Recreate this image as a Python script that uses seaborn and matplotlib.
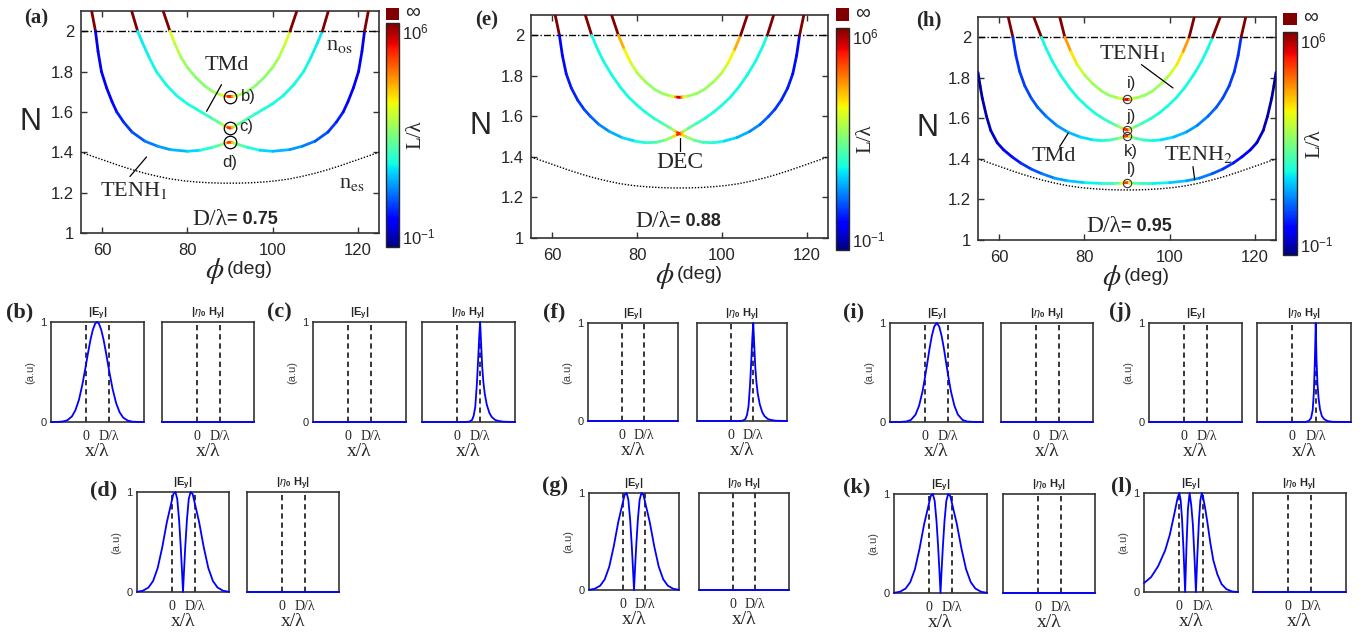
import numpy as np
import matplotlib
matplotlib.use("Agg")
import matplotlib.pyplot as plt
from matplotlib.collections import LineCollection
from matplotlib.colors import Normalize
from matplotlib.cm import ScalarMappable
import seaborn as sns

W, H = 1370, 635

# ---------------- Data ----------------
INF = 6.0  # log10(L/lambda) for the "infinite" (dark red) part above n_os

# Dispersion branches, left half (phi <= 90 deg); the curves are symmetric about 90 deg.
# phi (deg), N, log10(L/lambda)
a1_phi = [74.3, 75.9, 75.9, 77.0, 78.5, 80.0, 82.0, 84.0, 86.0, 88.0, 89.0, 89.5, 90.0]
a1_n = [2.10, 2.00, 2.00, 1.94, 1.87, 1.82, 1.77, 1.73, 1.70, 1.683, 1.678, 1.677, 1.676]
a1_l = [INF, INF, 3.4, 3.1, 2.9, 2.7, 2.6, 2.6, 2.7, 3.0, 3.6, 4.8, 5.6]

a2_phi = [66.9, 68.3, 68.3, 69.5, 71.0, 72.7, 75.0, 77.5, 80.0, 82.0, 84.0, 86.0, 88.0, 89.0, 89.5, 90.0]
a2_n = [2.10, 2.00, 2.00, 1.94, 1.87, 1.80, 1.735, 1.68, 1.64, 1.615, 1.59, 1.565, 1.54, 1.528, 1.523, 1.52]
a2_l = [INF, INF, 1.5, 1.5, 1.55, 1.6, 1.6, 1.6, 1.65, 1.7, 1.8, 2.0, 2.5, 3.3, 4.6, 5.4]

a3_phi = [57.5, 58.4, 58.4, 59.0, 59.8, 61.0, 62.3, 63.4, 65.0, 67.0, 70.0, 73.0, 76.0, 80.0, 83.0, 86.0, 88.0, 89.0, 89.5, 90.0]
a3_n = [2.10, 2.00, 2.00, 1.90, 1.80, 1.72, 1.65, 1.60, 1.55, 1.50, 1.455, 1.43, 1.413, 1.405, 1.41, 1.425, 1.438, 1.445, 1.448, 1.45]
a3_l = [INF, INF, -0.3, -0.3, -0.25, -0.2, -0.1, 0.0, 0.15, 0.35, 0.6, 0.85, 1.05, 1.25, 1.5, 1.9, 2.4, 3.2, 4.5, 5.4]

e1_phi = [74.0, 75.6, 75.6, 77.0, 78.5, 80.0, 82.0, 84.0, 86.0, 88.0, 89.0, 89.5, 90.0]
e1_n = [2.10, 2.00, 2.00, 1.93, 1.865, 1.815, 1.77, 1.735, 1.712, 1.70, 1.696, 1.695, 1.694]
e1_l = [INF, INF, 4.4, 3.8, 3.3, 3.0, 2.8, 2.7, 2.7, 2.9, 3.6, 5.0, 5.9]

e2_phi = [67.8, 69.3, 69.3, 70.5, 72.0, 74.0, 76.0, 78.0, 80.0, 82.0, 84.0, 86.0, 88.0, 89.0, 89.5, 90.0]
e2_n = [2.10, 2.00, 2.00, 1.94, 1.875, 1.805, 1.745, 1.695, 1.655, 1.62, 1.59, 1.565, 1.54, 1.527, 1.52, 1.515]
e2_l = [INF, INF, 1.6, 1.6, 1.6, 1.6, 1.6, 1.6, 1.65, 1.7, 1.8, 2.0, 2.4, 3.2, 4.5, 5.6]

e3_phi = [60.7, 61.7, 61.7, 62.4, 63.3, 64.5, 66.0, 67.5, 69.0, 71.0, 73.5, 76.5, 79.5, 82.0, 84.5, 86.5, 88.5, 89.5, 90.0]
e3_n = [2.10, 2.00, 2.00, 1.90, 1.81, 1.74, 1.68, 1.635, 1.60, 1.56, 1.525, 1.495, 1.478, 1.47, 1.472, 1.482, 1.50, 1.51, 1.515]
e3_l = [INF, INF, -0.1, -0.1, 0.0, 0.05, 0.15, 0.3, 0.45, 0.7, 0.95, 1.25, 1.55, 1.75, 2.0, 2.4, 3.0, 4.5, 5.6]

h1_phi = [74.2, 75.4, 75.4, 76.8, 78.3, 80.0, 82.0, 84.0, 86.0, 88.0, 89.0, 89.5, 90.0]
h1_n = [2.10, 2.00, 2.00, 1.93, 1.865, 1.815, 1.77, 1.735, 1.712, 1.70, 1.697, 1.697, 1.697]
h1_l = [INF, INF, 4.5, 3.9, 3.4, 3.0, 2.8, 2.7, 2.7, 2.9, 3.6, 5.0, 5.9]

h2_phi = [68.1, 69.9, 69.9, 71.0, 72.5, 74.5, 76.5, 78.5, 80.5, 82.5, 84.5, 86.5, 88.0, 89.0, 89.5, 90.0]
h2_n = [2.10, 2.00, 2.00, 1.945, 1.88, 1.81, 1.75, 1.70, 1.66, 1.625, 1.598, 1.575, 1.56, 1.55, 1.546, 1.543]
h2_l = [INF, INF, 1.6, 1.6, 1.6, 1.6, 1.6, 1.6, 1.65, 1.7, 1.8, 2.0, 2.4, 3.2, 4.5, 5.6]

h3_phi = [62.1, 63.2, 63.2, 63.9, 64.8, 66.0, 67.5, 69.0, 71.0, 73.5, 76.0, 79.0, 82.0, 84.0, 86.0, 88.0, 89.0, 89.5, 90.0]
h3_n = [2.10, 2.00, 2.00, 1.91, 1.83, 1.76, 1.70, 1.655, 1.61, 1.565, 1.533, 1.508, 1.494, 1.49, 1.493, 1.502, 1.508, 1.512, 1.514]
h3_l = [INF, INF, 0.2, 0.2, 0.25, 0.3, 0.4, 0.5, 0.65, 0.85, 1.05, 1.3, 1.5, 1.65, 1.85, 2.3, 3.0, 4.4, 5.6]

h4_phi = [55.0, 55.5, 56.0, 57.0, 58.0, 59.5, 61.0, 63.0, 65.0, 67.5, 70.0, 73.0, 76.0, 80.0, 84.0, 87.0, 88.5, 89.5, 90.0]
h4_n = [1.827, 1.76, 1.70, 1.61, 1.54, 1.48, 1.445, 1.41, 1.38, 1.35, 1.327, 1.305, 1.292, 1.283, 1.279, 1.279, 1.28, 1.282, 1.283]
h4_l = [-0.9, -0.85, -0.8, -0.7, -0.6, -0.45, -0.3, -0.1, 0.1, 0.35, 0.6, 0.85, 1.1, 1.4, 1.7, 2.0, 2.5, 4.3, 5.5]

# extraordinary index n_es (left half), ordinary index n_os
nes_phi = [55, 58, 61, 64, 67, 70, 73, 76, 79, 82, 85, 88, 90]
nes_n = [1.40, 1.378, 1.356, 1.334, 1.314, 1.296, 1.281, 1.268, 1.259, 1.253, 1.249, 1.247, 1.247]
N_OS = 2.0

# marked operating points
a_mark_n = [1.676, 1.52, 1.45]
a_mark_txt = ["b)", "c)", "d)"]
h_mark_n = [1.697, 1.543, 1.514, 1.283]
h_mark_txt = ["i)", "j)", "k)", "l)"]

# mode profiles, x in units of D (0 .. 1 is the slab), normalised amplitude
b_x = [-1.5, -1.2, -1.0, -0.8, -0.6, -0.45, -0.3, -0.15, 0.0, 0.1, 0.2, 0.3, 0.4, 0.48, 0.56,
       0.66, 0.76, 0.86, 1.0, 1.15, 1.3, 1.45, 1.6, 1.8, 2.0, 2.2, 2.5]
b_y = [0.0, 0.001, 0.005, 0.017, 0.056, 0.118, 0.22, 0.375, 0.566, 0.70, 0.824, 0.923, 0.984, 1.0, 0.984,
       0.923, 0.824, 0.70, 0.513, 0.33, 0.19, 0.098, 0.045, 0.014, 0.003, 0.001, 0.0]

i_x = [-1.5, -1.1, -0.8, -0.6, -0.4, -0.25, -0.1, 0.0, 0.1, 0.2, 0.3, 0.4, 0.51, 0.62, 0.72, 0.82,
       0.92, 1.02, 1.12, 1.27, 1.42, 1.62, 1.82, 2.12, 2.5]
i_y = [0.0, 0.0003, 0.005, 0.021, 0.075, 0.164, 0.31, 0.444, 0.59, 0.74, 0.87, 0.963, 1.0, 0.963, 0.87, 0.74,
       0.59, 0.444, 0.31, 0.164, 0.075, 0.021, 0.005, 0.0003, 0.0]

c_x = [-1.5, 0.4, 0.55, 0.65, 0.72, 0.79, 0.86, 0.92, 0.96, 1.0, 1.04, 1.09, 1.14, 1.2, 1.29, 1.4,
       1.5, 1.65, 1.8, 2.0, 2.5]
c_y = [0.0, 0.0, 0.005, 0.02, 0.06, 0.15, 0.38, 0.65, 0.85, 1.0, 0.8, 0.55, 0.4, 0.28, 0.17, 0.09,
       0.05, 0.02, 0.01, 0.003, 0.0]

j_x = [-1.5, 0.55, 0.7, 0.8, 0.87, 0.92, 0.96, 1.0, 1.03, 1.07, 1.12, 1.18, 1.26, 1.35, 1.5, 1.7, 2.5]
j_y = [0.0, 0.0, 0.01, 0.04, 0.12, 0.3, 0.6, 1.0, 0.65, 0.4, 0.24, 0.13, 0.06, 0.03, 0.01, 0.002, 0.0]

d_x = [-1.5, -1.25, -1.0, -0.8, -0.6, -0.4, -0.2, -0.1, 0.0, 0.08, 0.17, 0.25, 0.33, 0.4, 0.45, 0.5,
       0.55, 0.6, 0.67, 0.75, 0.83, 0.92, 1.0, 1.1, 1.2, 1.4, 1.6, 1.8, 2.0, 2.25, 2.5]
d_y = [0.002, 0.012, 0.045, 0.11, 0.24, 0.45, 0.7, 0.8, 0.9, 0.98, 1.0, 0.93, 0.72, 0.46, 0.24, 0.0,
       0.24, 0.46, 0.72, 0.93, 1.0, 0.98, 0.9, 0.8, 0.7, 0.45, 0.24, 0.11, 0.045, 0.012, 0.002]

l_x = [-1.5, -1.2, -0.9, -0.6, -0.4, -0.2, -0.08, 0.0, 0.06, 0.12, 0.18, 0.25, 0.31, 0.37, 0.44, 0.51,
       0.58, 0.65, 0.71, 0.77, 0.84, 0.9, 0.96, 1.02, 1.1, 1.2, 1.32, 1.45, 1.62, 1.8, 2.0, 2.25, 2.5]
l_y = [0.09, 0.15, 0.26, 0.42, 0.58, 0.8, 0.94, 1.0, 0.93, 0.73, 0.43, 0.0, 0.48, 0.84, 1.0, 0.88,
       0.68, 0.34, 0.0, 0.37, 0.73, 0.93, 1.0, 0.95, 0.85, 0.7, 0.5, 0.32, 0.18, 0.08, 0.03, 0.005, 0.0]

zero_x = [-1.5, 2.5]
zero_y = [0.0, 0.0]

# ---------------- Style ----------------
sns.set_style("ticks")
plt.rcParams["font.family"] = ["Liberation Sans", "DejaVu Sans"]
plt.rcParams["mathtext.fontset"] = "custom"
plt.rcParams["mathtext.rm"] = "Liberation Sans"
plt.rcParams["mathtext.it"] = "Liberation Sans:italic"
plt.rcParams["mathtext.bf"] = "Liberation Sans:bold"
SERIF = ["Liberation Serif", "DejaVu Serif"]
EDGE = "0.2"
CMAP = matplotlib.colormaps["jet"]
NORM = Normalize(-1, 6)

fig = plt.figure(figsize=(W / 100, H / 100), dpi=100)


def px_axes(l, r, t, b):
    return fig.add_axes([l / W, 1 - b / H, (r - l) / W, (b - t) / H])


def mirror(v, flip=False):
    v = list(v)
    rest = v[-2::-1]
    if flip:
        rest = [180 - p for p in rest]
    return np.array(v + rest, dtype=float)


def draw_branch(ax, phi, n, logl):
    x, y, c = mirror(phi, flip=True), mirror(n), mirror(logl)
    pts = np.column_stack([x, y])
    segs = np.stack([pts[:-1], pts[1:]], axis=1)
    keep = np.hypot(*(segs[:, 1] - segs[:, 0]).T) > 0
    vals = (c[:-1] + c[1:]) / 2
    lc = LineCollection(segs[keep], cmap=CMAP, norm=NORM, linewidths=2.0,
                        capstyle="round", zorder=3)
    lc.set_array(vals[keep])
    ax.add_collection(lc)


def main_panel(box, cb, inf, label, label_xy):
    ax = px_axes(*box)
    ax.set_xlim(55, 125)
    ax.set_ylim(1, 2.1)
    ax.set_xticks([60, 80, 100, 120])
    ax.set_yticks([1, 1.2, 1.4, 1.6, 1.8, 2])
    ax.set_yticklabels(["1", "1.2", "1.4", "1.6", "1.8", "2"])
    ax.tick_params(direction="in", top=True, right=True, length=4, width=1,
                   labelsize=12, color=EDGE)
    ax.tick_params(axis="x", pad=7)
    ax.tick_params(axis="y", pad=5)
    for s in ax.spines.values():
        s.set_linewidth(1.2)
        s.set_color(EDGE)
    ax.set_ylabel("N", rotation=0, fontsize=22, ha="center", va="center")
    ax.yaxis.set_label_coords(-0.17, 0.5)
    ax.text(0.45, -0.17, r"$\phi$", transform=ax.transAxes, fontsize=21,
            math_fontfamily="stix", ha="center", va="center")
    ax.text(0.49, -0.165, "(deg)", transform=ax.transAxes, fontsize=14,
            ha="left", va="center")
    ax.axhline(N_OS, color="k", lw=1.0, dashes=(5, 1.5, 1, 1.5), zorder=2)
    sns.lineplot(x=mirror(nes_phi, flip=True), y=mirror(nes_n), color="k", lw=1.0,
                 linestyle=(0, (1, 1.2)), ax=ax, zorder=2)
    fig.text(label_xy[0] / W, 1 - label_xy[1] / H, label, family=SERIF,
             fontweight="bold", fontsize=15, ha="center", va="center")

    # colour bar and the separate "infinite" patch
    cax = px_axes(*cb)
    cbar = fig.colorbar(ScalarMappable(norm=NORM, cmap=CMAP), cax=cax, ticks=[-1, 6])
    cbar.ax.set_yticklabels([r"$10^{-1}$", r"$10^{6}$"], fontsize=12)
    cbar.ax.tick_params(length=0, pad=2)
    tl = cbar.ax.get_yticklabels()
    tl[0].set_va("bottom")
    tl[1].set_va("top")
    cbar.outline.set_linewidth(1.0)
    cax.text(2.3, 0.5, "L/λ", transform=cax.transAxes, rotation=90, family=SERIF,
             fontsize=15, ha="center", va="center")
    iax = px_axes(*inf)
    iax.set_facecolor(CMAP(1.0))
    iax.set_xticks([])
    iax.set_yticks([])
    for s in iax.spines.values():
        s.set_visible(False)
    iax.text(1.45, 0.6, "∞", transform=iax.transAxes, fontsize=15, ha="left", va="center")
    return ax


def d_lambda(ax, x, y, val):
    ax.text(x, y, "D/λ", family=SERIF, fontsize=17, ha="right", va="center")
    ax.text(x, y, "= " + val, fontsize=13, fontweight="bold", ha="left", va="center")


def serif_note(ax, x, y, s, size=16):
    ax.text(x, y, s, family=SERIF, math_fontfamily="stix", fontsize=size,
            ha="center", va="center")


def pointer(ax, x0, y0, x1, y1):
    ax.plot([x0, x1], [y0, y1], color="k", lw=0.9, zorder=4)


# ---------------- (a) ----------------
ax = main_panel((81, 379, 11, 233), (386, 399, 23, 247), (386, 399, 8, 20), "(a)", (36, 18))
for p, n, l in [(a3_phi, a3_n, a3_l), (a2_phi, a2_n, a2_l), (a1_phi, a1_n, a1_l)]:
    draw_branch(ax, p, n, l)
ax.plot([90] * len(a_mark_n), a_mark_n, "o", mfc="none", mec="k", ms=9, mew=0.9, zorder=5)
ax.text(94.2, a_mark_n[0], a_mark_txt[0], fontsize=12, ha="center", va="center")
ax.text(93.9, a_mark_n[1] + 0.01, a_mark_txt[1], fontsize=12, ha="center", va="center")
ax.text(90.0, 1.347, a_mark_txt[2], fontsize=12, ha="center", va="center")
serif_note(ax, 89.2, 1.83, "TMd")
pointer(ax, 88.0, 1.735, 84.5, 1.603)
serif_note(ax, 67.4, 1.21, r"TENH$_1$")
pointer(ax, 66.5, 1.28, 70.4, 1.377)
serif_note(ax, 115.7, 1.93, r"n$_\mathrm{os}$")
serif_note(ax, 118.6, 1.245, r"n$_\mathrm{es}$")
d_lambda(ax, 89.4, 1.066, "0.75")

# ---------------- (e) ----------------
ax = main_panel((531, 828, 15, 238), (836, 849, 28, 250), (836, 849, 8, 21), "(e)", (487, 20))
for p, n, l in [(e3_phi, e3_n, e3_l), (e2_phi, e2_n, e2_l), (e1_phi, e1_n, e1_l)]:
    draw_branch(ax, p, n, l)
serif_note(ax, 90.1, 1.37, "DEC", size=17)
pointer(ax, 90, 1.495, 90, 1.43)
d_lambda(ax, 87.8, 1.082, "0.88")

# ---------------- (h) ----------------
ax = main_panel((978, 1276, 17, 240), (1283, 1297, 32, 255), (1283, 1297, 13, 25), "(h)", (929, 20))
for p, n, l in [(h4_phi, h4_n, h4_l), (h3_phi, h3_n, h3_l), (h2_phi, h2_n, h2_l), (h1_phi, h1_n, h1_l)]:
    draw_branch(ax, p, n, l)
ax.plot([90] * len(h_mark_n), h_mark_n, "o", mfc="none", mec="0.2", ms=6, mew=0.8, zorder=5)
for yy, s in zip([1.774, 1.61, 1.437, 1.346], h_mark_txt):
    ax.text(91.0, yy, s, fontsize=12, ha="center", va="center")
serif_note(ax, 91.4, 1.92, r"TENH$_1$")
pointer(ax, 93.4, 1.865, 100.8, 1.75)
serif_note(ax, 72.8, 1.412, "TMd")
pointer(ax, 74.2, 1.461, 76.2, 1.527)
serif_note(ax, 106.7, 1.42, r"TENH$_2$")
pointer(ax, 105.5, 1.362, 105.9, 1.297)
d_lambda(ax, 88.7, 1.066, "0.95")

# ---------------- field profiles ----------------
E_TITLE = r"$\mathbf{|E_y|}$"
H_TITLE = r"$\mathbf{|}\eta_\mathbf{0}\ \mathbf{H_y|}$"

profiles = {
    "b": ((b_x, b_y), (zero_x, zero_y)),
    "c": ((zero_x, zero_y), (c_x, c_y)),
    "d": ((d_x, d_y), (zero_x, zero_y)),
    "f": ((zero_x, zero_y), (c_x, c_y)),
    "g": ((d_x, d_y), (zero_x, zero_y)),
    "i": ((i_x, i_y), (zero_x, zero_y)),
    "j": ((zero_x, zero_y), (j_x, j_y)),
    "k": ((d_x, d_y), (zero_x, zero_y)),
    "l": ((l_x, l_y), (zero_x, zero_y)),
}

layout = [
    ("b", (51, 144, 322, 422), (162, 254, 322, 422), (20, 312)),
    ("c", (313, 406, 322, 422), (422, 515, 322, 422), (279, 312)),
    ("f", (588, 678, 323, 421), (697, 787, 323, 421), (554, 312)),
    ("i", (890, 983, 323, 422), (1001, 1093, 323, 422), (854, 312)),
    ("j", (1149, 1242, 323, 422), (1257, 1351, 323, 422), (1120, 312)),
    ("d", (137, 229, 492, 592), (247, 339, 492, 592), (104, 490)),
    ("g", (589, 679, 493, 590), (699, 789, 493, 590), (555, 486)),
    ("k", (894, 987, 494, 593), (1003, 1095, 494, 593), (857, 487)),
    ("l", (1144, 1238, 493, 592), (1253, 1346, 493, 592), (1122, 486)),
]


def profile_axes(box, prof, title, show_y):
    ax = px_axes(*box)
    sns.lineplot(x=prof[0], y=prof[1], color="blue", lw=1.3, ax=ax, clip_on=False, zorder=4)
    for xv in (0, 1):
        ax.axvline(xv, color="k", lw=1.1, dashes=(3.5, 2.5), zorder=2)
    ax.set_xlim(-1.5, 2.5)
    ax.set_ylim(0, 1)
    ax.set_xticks([0, 1])
    ax.set_xticklabels(["0", "D/λ"], family=SERIF, fontsize=10)
    ax.tick_params(axis="x", length=0, pad=6)
    ax.set_xlabel("x/λ", family=SERIF, fontsize=14, labelpad=0)
    if show_y:
        ax.set_yticks([0, 1])
        ax.set_yticklabels(["0", "1"], fontsize=8)
        ax.tick_params(axis="y", length=0, pad=3)
        ax.set_ylabel("(a.u)", fontsize=8, color="0.25", labelpad=4)
    else:
        ax.set_yticks([])
        ax.set_ylabel("")
    ax.set_title(title, fontsize=8, pad=2)
    for s in ax.spines.values():
        s.set_linewidth(1.2)
        s.set_color(EDGE)
    return ax


for key, ebox, hbox, lab in layout:
    e_prof, h_prof = profiles[key]
    profile_axes(ebox, e_prof, E_TITLE, True)
    profile_axes(hbox, h_prof, H_TITLE, False)
    fig.text(lab[0] / W, 1 - lab[1] / H, f"({key})", family=SERIF, fontweight="bold",
             fontsize=16, ha="center", va="center")

fig.savefig("out.png", dpi=100)
